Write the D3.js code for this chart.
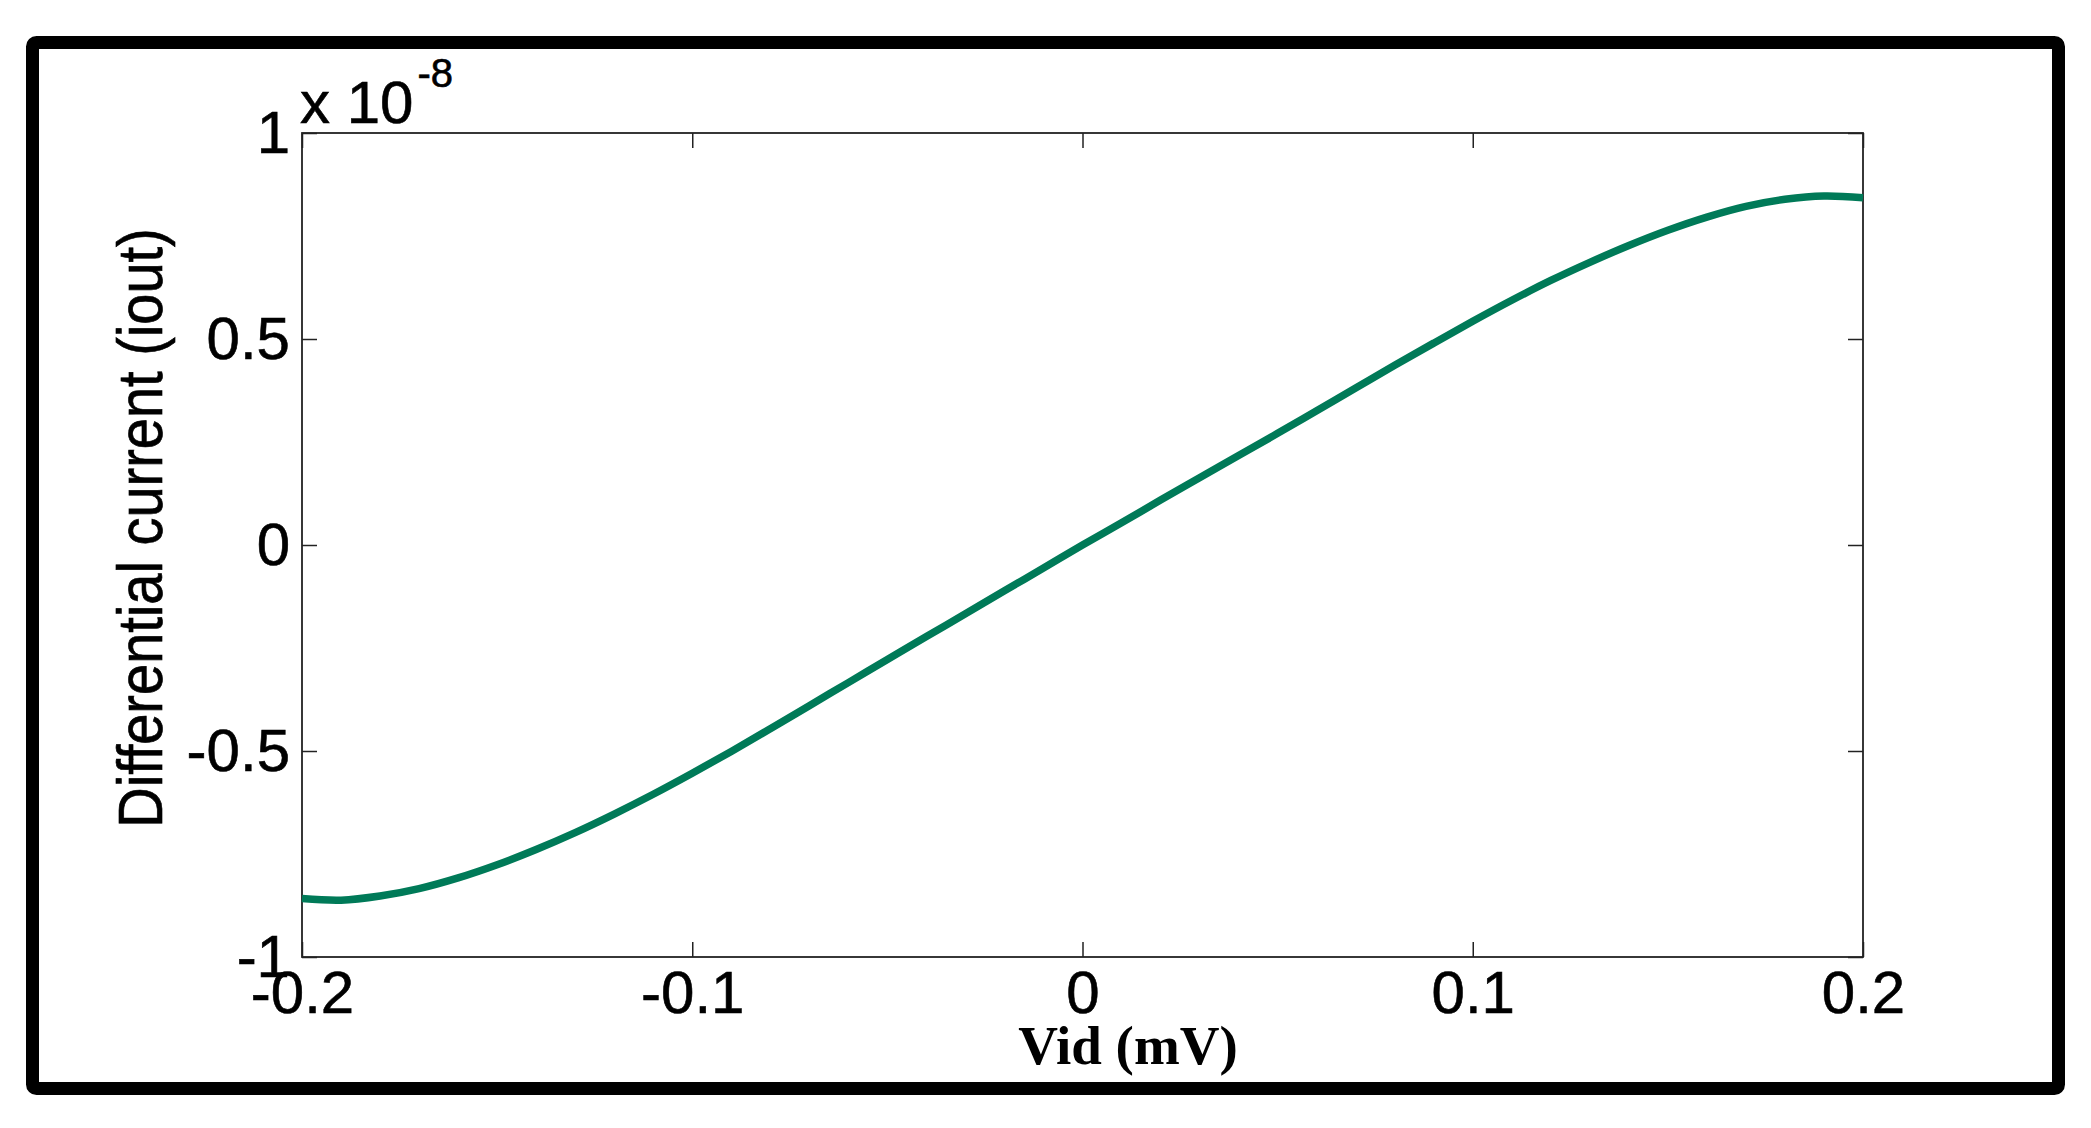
<!DOCTYPE html>
<html>
<head>
<meta charset="utf-8">
<script src="https://cdn.jsdelivr.net/npm/d3@7"></script>
<style>
  html, body { margin: 0; padding: 0; background: #fff; }
  svg { display: block; }
</style>
</head>
<body>
<div id="chart"></div>
<script>
// values (iout in units of 1e-8)
const vid = [-0.20, -0.19, -0.18, -0.17, -0.16, -0.15, -0.14, -0.13, -0.12, -0.11,
  -0.10, -0.09, -0.08, -0.07, -0.06, -0.05, -0.04, -0.03, -0.02, -0.01,
  0.00, 0.01, 0.02, 0.03, 0.04, 0.05, 0.06, 0.07, 0.08, 0.09,
  0.10, 0.11, 0.12, 0.13, 0.14, 0.15, 0.16, 0.17, 0.18, 0.19, 0.20];
const iout = [-0.858, -0.862, -0.852, -0.834, -0.808, -0.776, -0.739, -0.698, -0.653, -0.605,
  -0.554, -0.501, -0.446, -0.390, -0.334, -0.278, -0.222, -0.167, -0.111, -0.056,
  0.000, 0.054, 0.109, 0.163, 0.217, 0.271, 0.326, 0.381, 0.436, 0.490,
  0.543, 0.594, 0.642, 0.686, 0.727, 0.764, 0.796, 0.822, 0.839, 0.847, 0.843];

const xTicks = [-0.2, -0.1, 0, 0.1, 0.2];
const xTickLabels = ["-0.2", "-0.1", "0", "0.1", "0.2"];
const yTicks = [-1, -0.5, 0, 0.5, 1];
const yTickLabels = ["-1", "-0.5", "0", "0.5", "1"];

const W = 2091, H = 1128;
const plotL = 302, plotR = 1863, plotT = 133, plotB = 957;
const sans = "'Liberation Sans', Arial, Helvetica, sans-serif";

const svg = d3.select("#chart")
  .append("svg")
  .attr("width", W)
  .attr("height", H)
  .attr("viewBox", [0, 0, W, H]);

svg.append("rect")
  .attr("width", W)
  .attr("height", H)
  .attr("fill", "white");

// black outer frame
svg.append("rect")
  .attr("x", 32.5)
  .attr("y", 42.5)
  .attr("width", 2026)
  .attr("height", 1046)
  .attr("rx", 4)
  .attr("fill", "none")
  .attr("stroke", "black")
  .attr("stroke-width", 13);

const x = d3.scaleLinear().domain([-0.2, 0.2]).range([plotL, plotR]);
const y = d3.scaleLinear().domain([-1, 1]).range([plotB, plotT]);

function styleAxis(g) {
  g.select(".domain").remove();
  g.selectAll(".tick line").attr("stroke", "#222").attr("stroke-width", 1.5);
  g.selectAll(".tick text")
    .attr("fill", "black")
    .attr("stroke", "black")
    .attr("stroke-width", 0.6)
    .style("font-family", sans)
    .style("font-size", "60px");
}

svg.append("g")
  .attr("transform", `translate(0,${plotB})`)
  .call(d3.axisBottom(x).tickValues(xTicks)
    .tickFormat((d, i) => xTickLabels[i])
    .tickSizeInner(-15).tickSizeOuter(0).tickPadding(13))
  .call(styleAxis);

svg.append("g")
  .attr("transform", `translate(0,${plotT})`)
  .call(d3.axisTop(x).tickValues(xTicks).tickFormat("")
    .tickSizeInner(-15).tickSizeOuter(0))
  .call(styleAxis);

svg.append("g")
  .attr("transform", `translate(${plotL},0)`)
  .call(d3.axisLeft(y).tickValues(yTicks)
    .tickFormat((d, i) => yTickLabels[i])
    .tickSizeInner(-15).tickSizeOuter(0).tickPadding(12))
  .call(styleAxis);

svg.append("g")
  .attr("transform", `translate(${plotR},0)`)
  .call(d3.axisRight(y).tickValues(yTicks).tickFormat("")
    .tickSizeInner(-15).tickSizeOuter(0))
  .call(styleAxis);

// plot box
svg.append("rect")
  .attr("x", plotL)
  .attr("y", plotT)
  .attr("width", plotR - plotL)
  .attr("height", plotB - plotT)
  .attr("fill", "none")
  .attr("stroke", "#222")
  .attr("stroke-width", 1.8);

const pts = vid.map((v, i) => [v, iout[i]]);
const curve = d3.line()
  .x(d => x(d[0]))
  .y(d => y(d[1]))
  .curve(d3.curveCatmullRom);

svg.append("path")
  .attr("d", curve(pts))
  .attr("fill", "none")
  .attr("stroke", "#007a58")
  .attr("stroke-width", 7.5)
  .attr("stroke-linejoin", "round");

// exponent label
const expo = svg.append("text")
  .attr("x", 300)
  .attr("y", 123)
  .attr("stroke", "black")
  .attr("stroke-width", 0.6)
  .style("font-family", sans)
  .style("font-size", "60px")
  .attr("fill", "black");
expo.append("tspan").text("x 10");
expo.append("tspan")
  .attr("dx", 4)
  .attr("dy", -36)
  .style("font-size", "40px")
  .text("-8");

// axis titles
svg.append("text")
  .attr("transform", "translate(162,528) rotate(-90) scale(1,1.12)")
  .attr("text-anchor", "middle")
  .attr("stroke", "black")
  .attr("stroke-width", 0.6)
  .style("font-family", sans)
  .style("font-size", "56px")
  .attr("fill", "black")
  .text("Differential current (iout)");

svg.append("text")
  .attr("x", 1128)
  .attr("y", 1064)
  .attr("text-anchor", "middle")
  .style("font-family", "'Liberation Serif', 'Times New Roman', serif")
  .style("font-weight", "bold")
  .style("font-size", "55px")
  .attr("fill", "black")
  .text("Vid (mV)");
</script>
</body>
</html>
